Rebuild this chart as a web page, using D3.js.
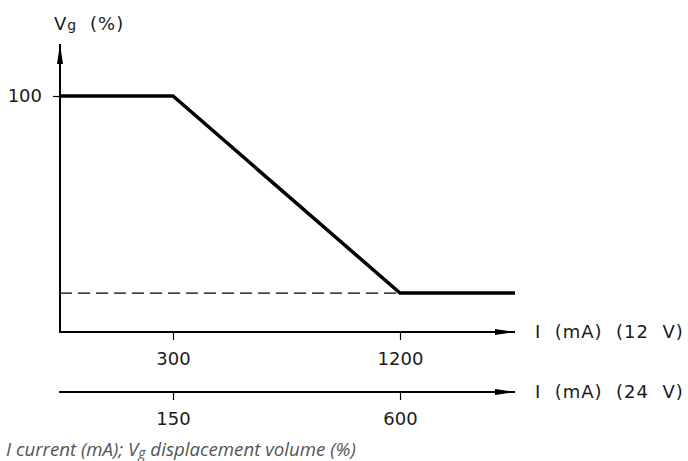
<!DOCTYPE html>
<html>
<head>
<meta charset="utf-8">
<script src="https://cdn.jsdelivr.net/npm/d3@7"></script>
<style>
  body { margin: 0; background: #fff; }
  svg text { font-family: "DejaVu Sans", "Liberation Sans", sans-serif; fill: #1a1a1a; }
</style>
</head>
<body>
<div id="chart"></div>
<script>
// current in mA at 12 V, and the same points at 24 V
const current12 = [0, 300, 1200, 1500];
const current24 = [0, 150, 600, 750];
const volume = [100, 100, 16.5, 16.5];   // Vg (%)
const ticks12 = [300, 1200];
const ticks24 = [150, 600];
const ticksY = [100];
const floorLevel = 16.5;

const width = 688, height = 461;
const left = 60, right = 515;
const axis1Y = 332, axis2Y = 392, yTop = 44;
const fs = 18;

const svg = d3.select('#chart')
    .append('svg')
    .attr('width', width)
    .attr('height', height);

svg.append('defs').append('marker')
    .attr('id', 'arrow')
    .attr('viewBox', '0 0 20 8')
    .attr('refX', 20).attr('refY', 4)
    .attr('markerWidth', 20).attr('markerHeight', 8)
    .attr('markerUnits', 'userSpaceOnUse')
    .attr('orient', 'auto')
    .append('path')
    .attr('d', 'M0,1 L20,4 L0,7 Z')
    .attr('fill', '#000');

// piecewise scales, the drawing isn't to scale near the origin
const x12 = d3.scaleLinear().domain(current12).range([left, 173, 400, right]);
const x24 = d3.scaleLinear().domain(current24).range([left, 173, 400, right]);
const y = d3.scaleLinear().domain([0, 100]).range([axis1Y, 96]);

// axis lines with arrows
svg.append('line')
    .attr('x1', left).attr('y1', axis1Y + 1)
    .attr('x2', left).attr('y2', yTop)
    .attr('stroke', '#000').attr('stroke-width', 2)
    .attr('marker-end', 'url(#arrow)');

[axis1Y, axis2Y].forEach(ay => {
  svg.append('line')
      .attr('x1', left - 1).attr('y1', ay)
      .attr('x2', right).attr('y2', ay)
      .attr('stroke', '#000').attr('stroke-width', 2)
      .attr('marker-end', 'url(#arrow)');
});

function styleAxis(g) {
  g.select('.domain').remove();
  g.selectAll('.tick line').attr('stroke', '#000').attr('stroke-width', 1.2);
  g.selectAll('.tick text')
      .attr('font-size', fs)
      .attr('fill', '#1a1a1a');
}

svg.append('g')
    .attr('transform', `translate(0,${axis1Y})`)
    .call(d3.axisBottom(x12).tickValues(ticks12).tickFormat(d3.format('d')).tickSize(8).tickPadding(12))
    .call(styleAxis);

svg.append('g')
    .attr('transform', `translate(0,${axis2Y})`)
    .call(d3.axisBottom(x24).tickValues(ticks24).tickFormat(d3.format('d')).tickSize(8).tickPadding(12))
    .call(styleAxis);

svg.append('g')
    .attr('transform', `translate(${left},0)`)
    .call(d3.axisLeft(y).tickValues(ticksY).tickSize(7).tickPadding(11))
    .call(styleAxis);

// dashed floor level
svg.append('line')
    .attr('x1', left).attr('x2', x12(1200))
    .attr('y1', y(floorLevel)).attr('y2', y(floorLevel))
    .attr('stroke', '#000').attr('stroke-width', 1.3)
    .attr('stroke-dasharray', '12,6');

// the curve
const line = d3.line()
    .x((d, i) => x12(current12[i]))
    .y(d => y(d));

svg.append('path')
    .datum(volume)
    .attr('fill', 'none')
    .attr('stroke', '#000')
    .attr('stroke-width', 3.5)
    .attr('stroke-linejoin', 'miter')
    .attr('d', line);

// axis titles
const yTitle = svg.append('text')
    .attr('x', 54).attr('y', 30)
    .attr('font-size', fs);
yTitle.append('tspan').text('V');
yTitle.append('tspan').attr('font-size', 14).attr('dx', 1).text('g');
yTitle.append('tspan').attr('x', 90).attr('letter-spacing', 1).text('(%)');

svg.append('text')
    .attr('x', 535).attr('y', axis1Y + 6)
    .attr('font-size', fs)
    .attr('letter-spacing', 1)
    .style('white-space', 'pre')
    .text('I  (mA)  (12  V)');

svg.append('text')
    .attr('x', 535).attr('y', axis2Y + 6)
    .attr('font-size', fs)
    .attr('letter-spacing', 1)
    .style('white-space', 'pre')
    .text('I  (mA)  (24  V)');

// caption
const cap = svg.append('text')
    .attr('x', 6).attr('y', 456)
    .attr('font-size', 18.7)
    .attr('font-style', 'italic')
    .style('font-family', '"Open Sans", sans-serif')
    .style('fill', '#555');
cap.append('tspan').text('I current (mA); V');
cap.append('tspan').attr('font-size', 14).attr('dy', 2).text('g');
cap.append('tspan').attr('dy', -2).text(' displacement volume (%)');
</script>
</body>
</html>
